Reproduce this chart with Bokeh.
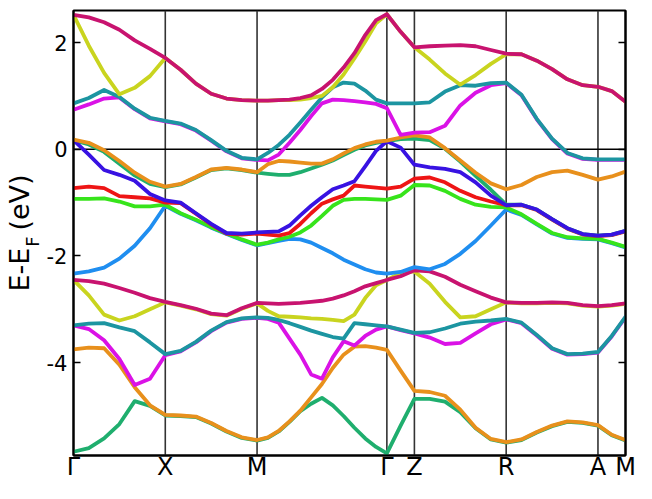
import numpy as np
from bokeh.plotting import figure
from bokeh.models import Range1d, LinearAxis, FixedTicker, Span, CustomJSTickFormatter
from bokeh.embed import file_html
from bokeh.resources import INLINE

# ---- high-symmetry path ----
NODE_LABELS = ["Γ", "X", "M", "Γ", "Z", "R", "A", "M"]
NODE_K = [0.0, 0.5, 1.0, 1.7071, 1.8571, 2.3571, 2.8571, 3.0071]
SAMPLES_PER_SEGMENT = [6, 6, 12, 2, 6, 6, 2]

Y_TICKS = [-4, -2, 0, 2]
Y_TICK_LABELS = ["-4", "-2", "0", "2"]
Y_LABEL_MAIN = "E-E\u00a0\u00a0(eV)"
Y_LABEL_SUB = "F\u00a0\u00a0\u00a0"

# ---- band energies (eV), read along the path ----
band_01 = [-5.67, -5.60, -5.42, -5.15, -4.72, -4.81, -4.99,
           -5.00, -5.02, -5.14, -5.29, -5.41, -5.46,
           -5.41, -5.29, -5.11, -4.91, -4.77, -4.66, -4.80, -5.00, -5.22, -5.42, -5.58, -5.70,
           -5.18, -4.68,
           -4.68, -4.73, -4.93, -5.23, -5.44, -5.50,
           -5.45, -5.31, -5.19, -5.11, -5.13, -5.18,
           -5.36, -5.46]
band_02 = [-3.75, -3.72, -3.73, -4.04, -4.46, -4.80, -4.98,
           -4.99, -5.01, -5.13, -5.28, -5.40, -5.45,
           -5.40, -5.28, -5.10, -4.90, -4.65, -4.40, -4.10, -3.85, -3.70, -3.69, -3.72, -3.76,
           -4.15, -4.53,
           -4.55, -4.62, -4.88, -5.22, -5.43, -5.49,
           -5.44, -5.30, -5.18, -5.10, -5.12, -5.17,
           -5.35, -5.45]
band_03 = [-3.30, -3.37, -3.58, -3.93, -4.42, -4.30, -3.86,
           -3.79, -3.62, -3.41, -3.25, -3.18, -3.16,
           -3.18, -3.25, -3.55, -3.85, -4.22, -4.30, -3.90, -3.60, -3.68, -3.50, -3.38, -3.32,
           -3.39, -3.45,
           -3.53, -3.65, -3.63, -3.45, -3.28, -3.19,
           -3.26, -3.49, -3.74, -3.85, -3.84, -3.81,
           -3.51, -3.15]
band_04 = [-3.30, -3.27, -3.26, -3.34, -3.41, -3.62, -3.84,
           -3.78, -3.61, -3.40, -3.24, -3.17, -3.15,
           -3.16, -3.20, -3.26, -3.33, -3.40, -3.46, -3.52, -3.55, -3.26, -3.28, -3.30, -3.32,
           -3.38, -3.44,
           -3.43, -3.36, -3.27, -3.23, -3.21, -3.18,
           -3.25, -3.48, -3.73, -3.84, -3.83, -3.80,
           -3.50, -3.14]
band_05 = [-2.45, -2.74, -3.10, -3.21, -3.13, -3.00, -2.87,
           -2.93, -3.00, -3.09, -3.12, -2.99, -2.89,
           -3.03, -3.13, -3.14, -3.15, -3.17, -3.18, -3.20, -3.22, -3.10, -2.79, -2.55, -2.45,
           -2.32, -2.29,
           -2.52, -2.86, -3.15, -3.13, -3.00, -2.87,
           -2.89, -2.89, -2.88, -2.89, -2.93, -2.95,
           -2.93, -2.90]
band_06 = [-2.45, -2.47, -2.52, -2.60, -2.69, -2.79, -2.86,
           -2.92, -2.99, -3.08, -3.11, -2.98, -2.88,
           -2.89, -2.90, -2.89, -2.88, -2.86, -2.84, -2.80, -2.74, -2.66, -2.57, -2.51, -2.45,
           -2.38, -2.27,
           -2.29, -2.39, -2.54, -2.66, -2.78, -2.87,
           -2.88, -2.88, -2.87, -2.88, -2.92, -2.94,
           -2.92, -2.89]
band_07 = [-2.33, -2.29, -2.22, -2.05, -1.81, -1.48, -1.06,
           -1.21, -1.33, -1.47, -1.59, -1.70, -1.80,
           -1.76, -1.72, -1.68, -1.69, -1.75, -1.85, -1.95, -2.07, -2.16, -2.25, -2.31, -2.33,
           -2.30, -2.21,
           -2.25, -2.15, -1.96, -1.72, -1.43, -1.13,
           -1.23, -1.41, -1.58, -1.66, -1.68, -1.69,
           -1.76, -1.84]
band_08 = [-0.93, -0.93, -0.92, -0.98, -1.07, -1.07, -1.04,
           -1.20, -1.32, -1.46, -1.58, -1.69, -1.79,
           -1.75, -1.69, -1.64, -1.56, -1.43, -1.25, -1.06, -0.95, -0.93, -0.93, -0.94, -0.95,
           -0.87, -0.67,
           -0.68, -0.78, -0.93, -1.04, -1.08, -1.09,
           -1.22, -1.40, -1.57, -1.65, -1.67, -1.68,
           -1.75, -1.83]
band_09 = [-0.73, -0.70, -0.73, -0.88, -0.90, -0.92, -1.00,
           -1.01, -1.21, -1.41, -1.58, -1.60, -1.58,
           -1.60, -1.62, -1.57, -1.40, -1.20, -1.02, -0.94, -0.87, -0.68, -0.70, -0.72, -0.74,
           -0.70, -0.55,
           -0.53, -0.62, -0.78, -0.90, -0.98, -1.05,
           -1.05, -1.14, -1.32, -1.49, -1.60, -1.63,
           -1.61, -1.54]
band_10 = [0.17, -0.10, -0.39, -0.48, -0.59, -0.84, -0.96,
           -1.00, -1.20, -1.40, -1.57, -1.58, -1.56,
           -1.55, -1.54, -1.43, -1.24, -1.06, -0.90, -0.75, -0.68, -0.60, -0.32, -0.03, 0.15,
           0.03, -0.29,
           -0.34, -0.37, -0.43, -0.62, -0.87, -1.05,
           -1.04, -1.13, -1.31, -1.48, -1.59, -1.62,
           -1.60, -1.53]
band_11 = [0.17, 0.09, -0.05, -0.27, -0.49, -0.65, -0.71,
           -0.66, -0.53, -0.39, -0.36, -0.39, -0.44,
           -0.46, -0.48, -0.48, -0.43, -0.36, -0.29, -0.21, -0.11, -0.01, 0.07, 0.12, 0.15,
           0.19, 0.20,
           0.17, 0.01, -0.23, -0.50, -0.76, -1.04,
           -1.04, -1.13, -1.31, -1.48, -1.59, -1.62,
           -1.60, -1.53]
band_12 = [0.18, 0.12, -0.02, -0.22, -0.44, -0.61, -0.70,
           -0.65, -0.52, -0.38, -0.35, -0.38, -0.43,
           -0.28, -0.22, -0.23, -0.25, -0.27, -0.27, -0.19, -0.08, 0.02, 0.09, 0.14, 0.16,
           0.22, 0.26,
           0.22, 0.02, -0.21, -0.44, -0.64, -0.75,
           -0.67, -0.52, -0.43, -0.40, -0.48, -0.57,
           -0.51, -0.42]
band_13 = [0.74, 0.84, 0.95, 0.97, 0.75, 0.58, 0.52,
           0.47, 0.35, 0.16, -0.04, -0.17, -0.20,
           -0.21, -0.10, 0.12, 0.36, 0.62, 0.86, 0.93, 0.92, 0.90, 0.88, 0.85, 0.77,
           0.27, 0.31,
           0.32, 0.44, 0.82, 1.06, 1.20, 1.24,
           1.01, 0.56, 0.19, -0.08, -0.18, -0.20,
           -0.20, -0.20]
band_14 = [0.86, 0.96, 1.11, 0.98, 0.76, 0.59, 0.53,
           0.48, 0.36, 0.17, -0.03, -0.16, -0.19,
           -0.07, 0.08, 0.27, 0.50, 0.74, 0.97, 1.16, 1.25, 1.23, 1.10, 0.93, 0.86,
           0.86, 0.86,
           0.88, 1.08, 1.20, 1.19, 1.24, 1.25,
           1.02, 0.57, 0.20, -0.07, -0.17, -0.19,
           -0.19, -0.19]
band_15 = [2.52, 1.94, 1.43, 1.03, 1.15, 1.37, 1.71,
           1.49, 1.23, 1.04, 0.95, 0.92, 0.91,
           0.91, 0.92, 0.92, 0.93, 0.96, 1.00, 1.16, 1.40, 1.70, 2.02, 2.36, 2.53,
           2.20, 1.91,
           1.68, 1.42, 1.21, 1.39, 1.60, 1.78,
           1.78, 1.66, 1.50, 1.31, 1.20, 1.17,
           1.09, 0.89]
band_16 = [2.52, 2.47, 2.38, 2.24, 2.04, 1.88, 1.71,
           1.49, 1.23, 1.04, 0.95, 0.92, 0.91,
           0.91, 0.92, 0.93, 0.96, 1.01, 1.13, 1.30, 1.53, 1.80, 2.14, 2.42, 2.53,
           2.20, 1.91,
           1.93, 1.94, 1.95, 1.93, 1.86, 1.79,
           1.78, 1.66, 1.50, 1.31, 1.20, 1.17,
           1.09, 0.89]

BANDS = [band_01, band_02, band_03, band_04, band_05, band_06, band_07, band_08,
         band_09, band_10, band_11, band_12, band_13, band_14, band_15, band_16]

C_SEAGREEN = "#1FAE6E"
C_ORANGE = "#E8901C"
C_MAGENTA = "#DA12E6"
C_TEAL = "#1C95A1"
C_YELLOW = "#C9D41F"
C_CRIMSON = "#C8136F"
C_LIGHTBLUE = "#1F8EF0"
C_LIME = "#37E41B"
C_RED = "#EE1515"
C_BLUE = "#3812E2"
BAND_COLORS = [C_SEAGREEN, C_ORANGE, C_MAGENTA, C_TEAL, C_YELLOW, C_CRIMSON,
               C_LIGHTBLUE, C_LIME, C_RED, C_BLUE,
               C_SEAGREEN, C_ORANGE, C_MAGENTA, C_TEAL, C_YELLOW, C_CRIMSON]
DRAW_ORDER = [0, 1, 2, 3, 4, 5, 6, 7, 8, 10, 9, 11, 12, 13, 14, 15]

# k sampling along the path
k_grid = [NODE_K[0]]
for i, n in enumerate(SAMPLES_PER_SEGMENT):
    k_grid.extend(np.linspace(NODE_K[i], NODE_K[i + 1], n + 1)[1:].tolist())

p = figure(width=636, height=483, output_backend="svg", toolbar_location=None,
           x_range=Range1d(NODE_K[0], NODE_K[-1]), y_range=Range1d(-5.74, 2.60),
           min_border_left=69, min_border_right=11, min_border_top=10, min_border_bottom=0)
p.grid.visible = False
p.outline_line_color = "black"
p.outline_line_width = 2
p.background_fill_color = "white"
p.border_fill_color = "white"

# bottom axis: symmetry-point labels
xa = p.xaxis[0]
xa.ticker = FixedTicker(ticks=NODE_K)
xa.major_label_overrides = {k: s for k, s in zip(NODE_K, NODE_LABELS)}
xa.major_tick_line_color = None
xa.major_tick_in = 0
xa.major_tick_out = 0
xa.minor_tick_line_color = None
xa.minor_tick_in = 0
xa.minor_tick_out = 0
xa.axis_line_width = 2
xa.major_label_standoff = -3
xa.axis_label_standoff = 0
xa.major_label_text_font = "DejaVu Sans"
xa.major_label_text_font_size = "24px"
xa.major_label_text_color = "black"

# left axis
ya = p.yaxis[0]
ya.ticker = FixedTicker(ticks=Y_TICKS)
ya.major_label_overrides = {t: s for t, s in zip(Y_TICKS, Y_TICK_LABELS)}
ya.minor_tick_line_color = None
ya.minor_tick_in = 0
ya.minor_tick_out = 0
ya.major_tick_in = 7
ya.major_tick_out = 0
ya.major_tick_line_width = 1.5
ya.axis_line_width = 2
ya.major_label_text_font = "DejaVu Sans"
ya.major_label_text_font_size = "21px"
ya.major_label_text_color = "black"
ya.major_label_standoff = 6
ya.axis_label = Y_LABEL_SUB
ya.axis_label_text_font = "DejaVu Sans"
ya.axis_label_text_font_size = "18px"
ya.axis_label_text_font_style = "normal"
ya.axis_label_text_color = "black"
ya.axis_label_standoff = 1

# outer left axis carrying the main part of the y label
ylab = LinearAxis(ticker=FixedTicker(ticks=[]),
                  formatter=CustomJSTickFormatter(code="return ''"),
                  axis_line_color=None, major_tick_line_color=None,
                  major_tick_in=0, major_tick_out=0,
                  minor_tick_line_color=None, minor_tick_in=0, minor_tick_out=0,
                  major_label_standoff=0,
                  axis_label=Y_LABEL_MAIN, axis_label_standoff=-16,
                  axis_label_text_font="DejaVu Sans", axis_label_text_font_size="27px",
                  axis_label_text_font_style="normal", axis_label_text_color="black")
p.add_layout(ylab, "left")

# right axis: inward ticks only
ra = LinearAxis(ticker=FixedTicker(ticks=Y_TICKS),
                formatter=CustomJSTickFormatter(code="return ''"),
                major_tick_in=7, major_tick_out=0, major_tick_line_width=1.5,
                minor_tick_line_color=None, minor_tick_in=0, minor_tick_out=0,
                major_label_standoff=0, axis_line_width=2)
p.add_layout(ra, "right")

for kk in NODE_K[1:-1]:
    p.add_layout(Span(location=kk, dimension="height", line_color="#333333",
                      line_width=1.6, level="underlay"))
p.add_layout(Span(location=0, dimension="width", line_color="black",
                  line_width=1.6, level="underlay"))

for idx in DRAW_ORDER:
    p.line(k_grid, BANDS[idx], line_color=BAND_COLORS[idx], line_width=3.8,
           line_join="round", line_cap="round")

open("out.html", "w").write(file_html(p, INLINE))
